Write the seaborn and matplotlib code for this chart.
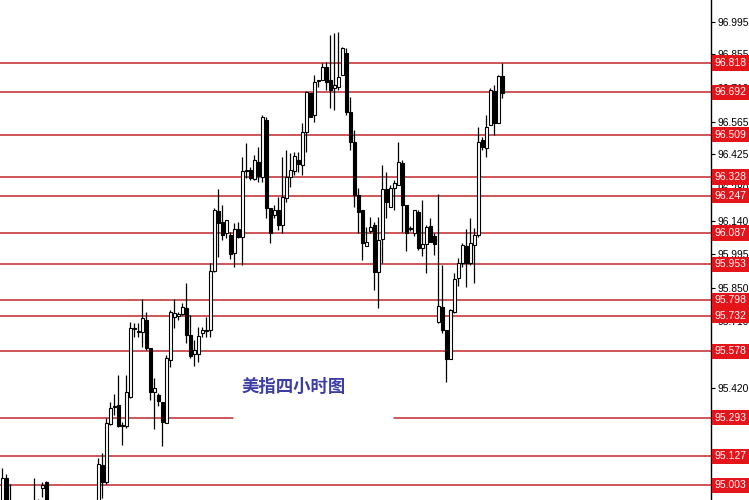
import numpy as np
import pandas as pd
import matplotlib
matplotlib.use("Agg")
import matplotlib.pyplot as plt
import matplotlib.transforms as mtransforms
import seaborn as sns

# 4小时K线 (开, 收, 高, 低) —— 从图上估读
opens = [94.85, 95.033, 94.90, 94.86, 94.80, 94.76, 94.82, 94.78, 94.84, 94.90,
         94.99, 95.016, 94.90, 94.84, 94.78, 94.73, 94.77, 94.72, 94.68, 94.74,
         94.70, 94.76, 94.82, 94.79, 94.88, 95.089, 95.016, 95.265, 95.339, 95.347,
         95.257, 95.257, 95.381, 95.676, 95.661, 95.661, 95.713, 95.592, 95.403, 95.390,
         95.360, 95.270, 95.541, 95.726, 95.730, 95.739, 95.764, 95.648, 95.566, 95.566,
         95.657, 95.665, 95.670, 95.923, 96.182, 96.134, 96.087, 96.078, 96.001, 96.104,
         96.070, 96.352, 96.358, 96.319, 96.392, 96.328, 96.573, 96.194, 96.164, 96.186,
         96.121, 96.237, 96.328, 96.354, 96.401, 96.379, 96.521, 96.689, 96.594, 96.740,
         96.745, 96.801, 96.745, 96.711, 96.715, 96.766, 96.861, 96.607, 96.478, 96.250,
         96.186, 96.031, 96.096, 96.121, 95.919, 96.061, 96.276, 96.199, 96.280, 96.293,
         96.388, 96.207, 96.106, 96.087, 96.177, 96.022, 96.040, 96.117, 96.074, 95.704,
         95.769, 95.670, 95.545, 95.747, 95.893, 95.958, 96.031, 95.958, 96.035, 96.078,
         96.487, 96.452, 96.551, 96.698, 96.560, 96.762]
closes = [95.033, 94.87, 94.86, 94.80, 94.76, 94.82, 94.78, 94.84, 94.90, 94.88,
          95.003, 94.90, 94.84, 94.78, 94.73, 94.77, 94.72, 94.68, 94.74, 94.70,
          94.76, 94.82, 94.79, 94.86, 95.093, 95.016, 95.270, 95.335, 95.343, 95.257,
          95.262, 95.403, 95.678, 95.680, 95.667, 95.721, 95.592, 95.403, 95.420, 95.364,
          95.274, 95.549, 95.747, 95.743, 95.739, 95.769, 95.648, 95.558, 95.584, 95.644,
          95.670, 95.670, 95.923, 96.186, 96.130, 96.078, 96.143, 95.997, 96.104, 96.070,
          96.354, 96.356, 96.323, 96.401, 96.332, 96.586, 96.194, 96.087, 96.186, 96.121,
          96.242, 96.328, 96.358, 96.418, 96.384, 96.521, 96.693, 96.586, 96.736, 96.745,
          96.801, 96.736, 96.702, 96.723, 96.758, 96.883, 96.607, 96.478, 96.250, 96.177,
          96.044, 96.048, 96.113, 95.919, 96.057, 96.276, 96.220, 96.280, 96.302, 96.392,
          96.207, 96.087, 96.110, 96.186, 96.022, 96.040, 96.113, 96.048, 96.040, 95.773,
          95.670, 95.545, 95.756, 95.889, 95.958, 96.035, 95.958, 96.044, 96.078, 96.478,
          96.457, 96.543, 96.702, 96.560, 96.762, 96.689]
highs = [95.076, 95.050, 95.007, 94.90, 94.85, 94.86, 94.88, 94.90, 95.033, 94.943,
         95.016, 95.020, 94.92, 94.88, 94.82, 94.80, 94.81, 94.76, 94.78, 94.79,
         94.80, 94.86, 94.88, 94.91, 95.119, 95.141, 95.291, 95.360, 95.394, 95.476,
         95.274, 95.476, 95.704, 95.700, 95.700, 95.803, 95.747, 95.592, 95.463, 95.399,
         95.360, 95.562, 95.756, 95.803, 95.747, 95.786, 95.872, 95.734, 95.627, 95.683,
         95.683, 95.726, 95.958, 96.194, 96.276, 96.207, 96.143, 96.091, 96.130, 96.134,
         96.414, 96.474, 96.371, 96.422, 96.457, 96.594, 96.586, 96.194, 96.207, 96.242,
         96.414, 96.444, 96.431, 96.435, 96.435, 96.560, 96.698, 96.689, 96.766, 96.745,
         96.818, 96.822, 96.938, 96.947, 96.951, 96.887, 96.883, 96.672, 96.530, 96.280,
         96.186, 96.113, 96.156, 96.134, 96.156, 96.379, 96.349, 96.293, 96.315, 96.478,
         96.401, 96.207, 96.117, 96.186, 96.186, 96.229, 96.121, 96.151, 96.087, 96.255,
         95.949, 95.670, 95.760, 95.915, 95.979, 96.044, 96.104, 96.151, 96.108, 96.543,
         96.500, 96.594, 96.711, 96.723, 96.766, 96.818]
lows = [94.81, 94.84, 94.83, 94.76, 94.72, 94.73, 94.74, 94.75, 94.80, 94.85,
        94.95, 94.87, 94.80, 94.74, 94.70, 94.69, 94.68, 94.64, 94.65, 94.67,
        94.68, 94.73, 94.76, 94.77, 94.85, 94.947, 95.007, 95.262, 95.304, 95.255,
        95.175, 95.248, 95.377, 95.640, 95.640, 95.597, 95.584, 95.369, 95.244, 95.343,
        95.171, 95.270, 95.511, 95.678, 95.713, 95.734, 95.614, 95.549, 95.515, 95.532,
        95.640, 95.640, 95.640, 95.919, 95.984, 96.057, 96.066, 95.975, 95.941, 96.066,
        95.949, 96.323, 96.315, 96.315, 96.306, 96.306, 96.151, 96.044, 96.151, 96.100,
        96.087, 96.220, 96.285, 96.336, 96.349, 96.336, 96.435, 96.586, 96.564, 96.715,
        96.745, 96.702, 96.624, 96.616, 96.702, 96.766, 96.594, 96.444, 96.199, 96.087,
        95.971, 96.031, 96.087, 95.842, 95.764, 95.958, 96.151, 96.199, 96.186, 96.293,
        96.091, 96.009, 96.096, 96.074, 96.014, 95.988, 95.915, 96.048, 95.992, 95.700,
        95.657, 95.446, 95.545, 95.743, 95.859, 95.941, 95.855, 95.949, 95.872, 96.070,
        96.444, 96.414, 96.551, 96.508, 96.560, 96.668]

# 水平支撑/阻力位
levels = [96.818, 96.692, 96.509, 96.328, 96.247, 96.087, 95.953,
          95.798, 95.732, 95.578, 95.293, 95.127, 95.003]
# 右侧价格刻度
tick_values = [96.995, 96.855, 96.710, 96.565, 96.425, 96.280, 96.140, 95.995,
               95.850, 95.710, 95.565, 95.420, 95.280, 95.135, 94.995]
titulo = "美指四小时图"

df = pd.DataFrame({"open": opens, "close": closes, "high": highs, "low": lows})
df["idx"] = np.arange(len(df))
df["up"] = df["close"] >= df["open"]

sns.set_style("white")
plt.rcParams["font.family"] = ["Liberation Sans", "DejaVu Sans"]

fig = plt.figure(figsize=(7.49, 5.0), dpi=100)
ax = fig.add_axes([0, 0, 711 / 749, 1])

# 横线
line_color = "#c0282d"
for lv in levels:
    if lv == 95.293:
        # 标题处断开
        ax.axhline(lv, xmin=0, xmax=233 / 711, color=line_color, lw=1.1, zorder=1)
        ax.axhline(lv, xmin=394 / 711, xmax=1, color=line_color, lw=1.1, zorder=1)
    else:
        ax.axhline(lv, color=line_color, lw=1.1, zorder=1)

# 影线
ax.vlines(df["idx"], df["low"], df["high"], color="black", lw=0.9, zorder=2)

# 实体
body_bottom = df[["open", "close"]].min(axis=1)
body_height = (df["close"] - df["open"]).abs().clip(lower=0.003)
colors = np.where(df["up"], "white", "black")
ax.bar(df["idx"], body_height, bottom=body_bottom, width=0.72,
       color=colors, edgecolor="black", linewidth=0.8, zorder=3)

ax.set_xlim(-0.575, 177.2)
ax.set_ylim(94.939, 97.089)

for s in ["left", "top", "bottom"]:
    ax.spines[s].set_visible(False)
ax.spines["right"].set_color("black")
ax.spines["right"].set_linewidth(1.0)

ax.set_xticks([])
ax.yaxis.tick_right()
ax.set_yticks(tick_values)
ax.set_yticklabels([f"{v:.3f}" for v in tick_values])
ax.tick_params(axis="y", direction="out", length=3, width=0.8, pad=2,
               labelsize=7.4, colors="black")

# 右侧红色价格标签
trans = mtransforms.blended_transform_factory(ax.transAxes, ax.transData)
for lv in levels:
    ax.text(1.005, lv, f"{lv:.3f}", transform=trans, ha="left", va="center",
            fontsize=7.5, color="white", clip_on=False, zorder=5,
            bbox=dict(boxstyle="square,pad=0.25", fc="#e4141b", ec="none"))

# 标题
ax.text(294 / 711, 1 - 387 / 500, titulo, transform=ax.transAxes,
        ha="center", va="center", fontsize=12.5, fontweight="bold",
        color="#3d3da6", family=["Noto Sans CJK SC", "DejaVu Sans"])

plt.savefig("out.png", dpi=100)
